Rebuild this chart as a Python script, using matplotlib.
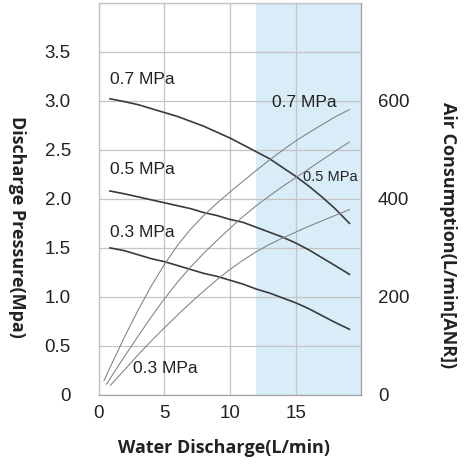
import matplotlib.pyplot as plt

# water discharge (L/min) for the pressure curves
flow_p = [0.86, 2, 3, 4, 5, 6, 7, 8, 9, 10, 11, 12, 13, 14, 15, 16, 17, 18, 19.1]
press_07 = [3.02, 2.99, 2.96, 2.92, 2.88, 2.84, 2.79, 2.74, 2.68, 2.62, 2.55, 2.48,
            2.41, 2.32, 2.23, 2.13, 2.02, 1.90, 1.75]
press_05 = [2.08, 2.05, 2.02, 1.99, 1.96, 1.93, 1.90, 1.86, 1.83, 1.79, 1.76, 1.71,
            1.66, 1.61, 1.55, 1.48, 1.40, 1.32, 1.23]
press_03 = [1.50, 1.47, 1.43, 1.39, 1.36, 1.32, 1.28, 1.24, 1.21, 1.17, 1.13, 1.08,
            1.04, 0.99, 0.94, 0.88, 0.81, 0.74, 0.67]

# air consumption (L/min[ANR])
flow_a07 = [0.4, 1, 2, 3, 4, 5, 6, 7, 8, 9, 10, 11, 12, 13, 14, 15, 16, 17, 18, 19.1]
air_07 = [29, 64, 120, 173, 222, 266, 305, 338, 366, 391, 414, 436, 458, 479, 499,
          518, 535, 551, 567, 582]
flow_a05 = [0.6, 1, 2, 3, 4, 5, 6, 7, 8, 9, 10, 11, 12, 13, 14, 15, 16, 17, 18, 19.1]
air_05 = [22, 39, 80, 120, 159, 196, 230, 261, 289, 315, 340, 364, 386, 406, 425,
          443, 461, 479, 497, 516]
flow_a03 = [0.9, 2, 3, 4, 5, 6, 7, 8, 9, 10, 11, 12, 13, 14, 15, 16, 17, 18, 19.1]
air_03 = [20, 52, 82, 110, 137, 163, 188, 212, 235, 256, 275, 292, 307, 320, 332,
          344, 355, 366, 378]

x_ticks = [0, 5, 10, 15]
y_ticks = [0, 0.5, 1.0, 1.5, 2.0, 2.5, 3.0, 3.5]
y_tick_labels = ["0", "0.5", "1.0", "1.5", "2.0", "2.5", "3.0", "3.5"]
air_ticks = [0, 200, 400, 600]
shade_range = (12, 20)

num_font = "Liberation Sans"
title_font = "Open Sans"
grid_col = "#c4c4c4"
p_col = "#3a3a3a"
a_col = "#808080"

fig = plt.figure(figsize=(4.66, 4.70), dpi=100)
ax = fig.add_axes([0.2118, 0.1596, 0.5635, 0.8347])

ax.axvspan(*shade_range, color="#d9edf8", lw=0, zorder=0)
ax.set_xlim(0, 20)
ax.set_ylim(0, 4)
ax.set_xticks(x_ticks + [20])
ax.set_yticks(y_ticks + [4.0])
ax.grid(True, color=grid_col, lw=0.9, zorder=1)
ax.set_axisbelow(False)
ax.set_xticklabels([str(t) for t in x_ticks] + [""], fontfamily=num_font,
                   fontsize=13.5, color="#222")
ax.set_yticklabels(y_tick_labels + [""], fontfamily=num_font, fontsize=13.5,
                   color="#222")
ax.tick_params(axis="both", length=0)
ax.tick_params(axis="y", pad=20)
ax.tick_params(axis="x", pad=7)
for s in ax.spines.values():
    s.set_color("#a0a0a0")
    s.set_linewidth(0.9)

ax.plot(flow_p, press_07, color=p_col, lw=1.2, zorder=3)
ax.plot(flow_p, press_05, color=p_col, lw=1.2, zorder=3)
ax.plot(flow_p, press_03, color=p_col, lw=1.2, zorder=3)

ax2 = ax.twinx()
ax2.set_ylim(0, 800)
ax2.set_yticks(air_ticks)
ax2.set_yticklabels([str(t) for t in air_ticks], fontfamily=num_font,
                    fontsize=13.5, color="#222")
ax2.tick_params(axis="y", length=0, pad=12)
for s in ax2.spines.values():
    s.set_visible(False)
ax2.plot(flow_a07, air_07, color=a_col, lw=0.75, zorder=3)
ax2.plot(flow_a05, air_05, color=a_col, lw=0.75, zorder=3)
ax2.plot(flow_a03, air_03, color=a_col, lw=0.75, zorder=3)

# curve labels
lab = dict(fontfamily=num_font, color="#222", va="center", ha="left")
ax.text(0.86, 3.22, "0.7 MPa", fontsize=12.5, **lab)
ax.text(0.86, 2.30, "0.5 MPa", fontsize=12.5, **lab)
ax.text(0.86, 1.66, "0.3 MPa", fontsize=12.5, **lab)
ax.text(13.17, 2.98, "0.7 MPa", fontsize=12.5, **lab)
ax.text(15.57, 2.22, "0.5 MPa", fontsize=10.5, **lab)
ax.text(2.64, 0.27, "0.3 MPa", fontsize=12.5, **lab)

title = dict(fontfamily=title_font, fontweight="bold", fontsize=13, color="#222",
             ha="center", va="center")
fig.text(0.481, 0.047, "Water Discharge(L/min)", **title)
fig.text(0.037, 0.517, "Discharge Pressure(Mpa)", rotation=270, **title)
fig.text(0.961, 0.50, "Air Consumption(L/min[ANR])", rotation=270, **title)

fig.savefig("out.png", dpi=100)
